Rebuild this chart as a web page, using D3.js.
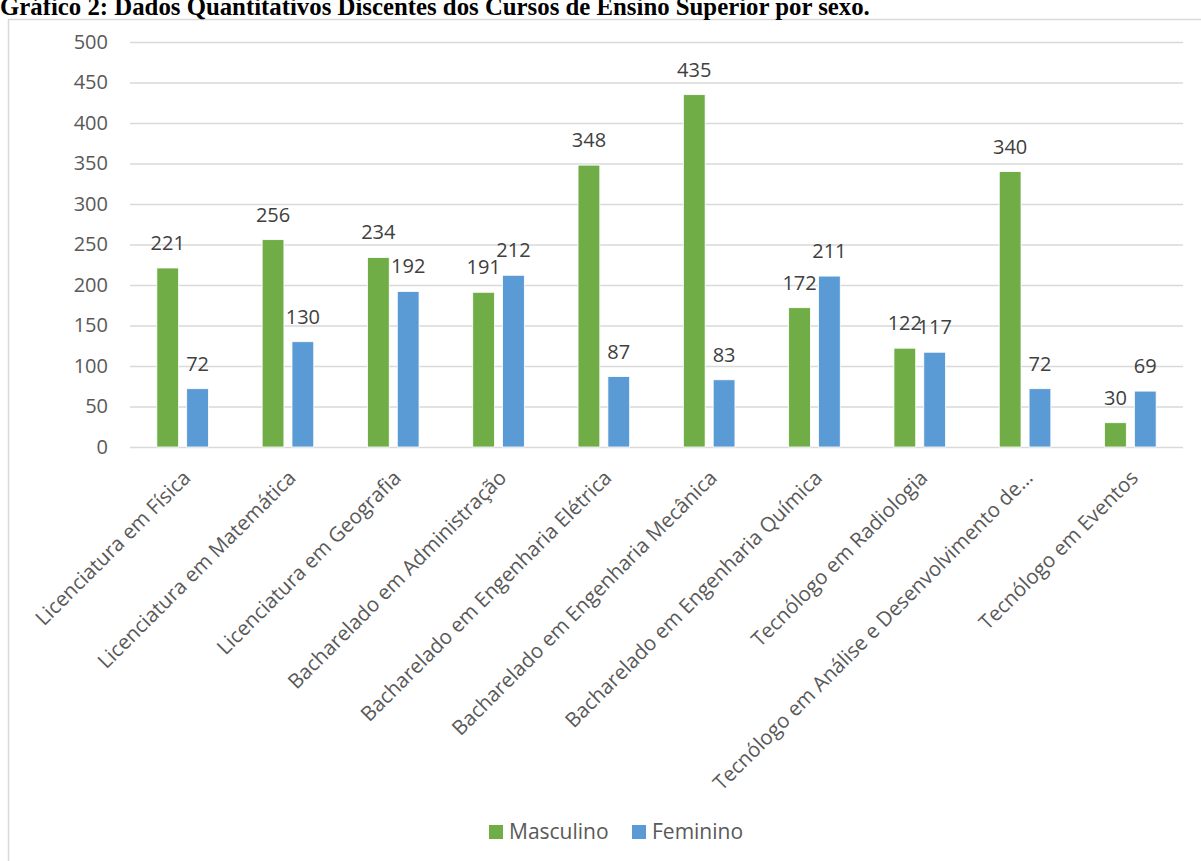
<!DOCTYPE html>
<html>
<head>
<meta charset="utf-8">
<script src="https://cdn.jsdelivr.net/npm/d3@7"></script>
<style>
  html, body { margin: 0; padding: 0; background: #fff; }
  svg { display: block; }
</style>
</head>
<body>
<svg id="chart" width="1201" height="861"></svg>
<script>
const titleText = "Gráfico 2: Dados Quantitativos Discentes dos Cursos de Ensino Superior por sexo.";
const categories = [
  "Licenciatura em Física",
  "Licenciatura em Matemática",
  "Licenciatura em Geografia",
  "Bacharelado em Administração",
  "Bacharelado em Engenharia Elétrica",
  "Bacharelado em Engenharia Mecânica",
  "Bacharelado em Engenharia Química",
  "Tecnólogo em Radiologia",
  "Tecnólogo em Análise e Desenvolvimento de…",
  "Tecnólogo em Eventos"
];
const seriesNames = ["Masculino", "Feminino"];
const masculino = [221, 256, 234, 191, 348, 435, 172, 122, 340, 30];
const feminino = [72, 130, 192, 212, 87, 83, 211, 117, 72, 69];
const yTicks = [0, 50, 100, 150, 200, 250, 300, 350, 400, 450, 500];
const colors = ["#70ad47", "#5b9bd5"];

const svg = d3.select("#chart");
const font = "'Open Sans', sans-serif";

// outer frame
svg.append("rect")
  .attr("x", 8.5).attr("y", 19.5)
  .attr("width", 1200).attr("height", 900)
  .attr("fill", "#fff").attr("stroke", "#d9d9d9").attr("stroke-width", 1.5);

// title
svg.append("text")
  .attr("x", 0).attr("y", 15)
  .attr("font-family", "'Liberation Serif', 'Times New Roman', serif")
  .attr("font-weight", "bold")
  .attr("font-size", 24.8)
  .attr("fill", "#000")
  .text(titleText);

const plotLeft = 130, plotRight = 1183, y0px = 447, y500px = 42;

const x = d3.scaleBand().domain(categories).range([plotLeft, plotRight]).paddingInner(0).paddingOuter(0);
const inner = d3.scaleBand().domain(seriesNames).range([0, x.bandwidth()]).paddingInner(0.27).paddingOuter(0.9);
const y = d3.scaleLinear().domain([0, 500]).range([y0px, y500px]);

// gridlines
const yAxis = d3.axisLeft(y).tickValues(yTicks).tickSize(-(plotRight - plotLeft)).tickPadding(22);
const gy = svg.append("g").attr("transform", `translate(${plotLeft},0)`).call(yAxis);
gy.select(".domain").remove();
gy.selectAll(".tick line").attr("stroke", "#d9d9d9").attr("stroke-width", 1.5);
gy.selectAll(".tick text")
  .attr("font-family", font).attr("font-size", 20).attr("fill", "#595959");

const data = categories.map((c, i) => ({ cat: c, vals: [masculino[i], feminino[i]] }));

const groups = svg.append("g").selectAll("g").data(data).join("g")
  .attr("transform", d => `translate(${x(d.cat)},0)`);

groups.selectAll("rect").data(d => d.vals.map((v, j) => ({ v, s: seriesNames[j], j })))
  .join("rect")
  .attr("x", d => inner(d.s))
  .attr("width", inner.bandwidth())
  .attr("y", d => y(d.v))
  .attr("height", d => y(0) - y(d.v))
  .attr("fill", d => colors[d.j])
  .attr("stroke", "#fff").attr("stroke-width", 0.8);

groups.selectAll("text.lbl").data(d => d.vals.map((v, j) => ({ v, s: seriesNames[j], j })))
  .join("text")
  .attr("class", "lbl")
  .attr("x", d => inner(d.s) + inner.bandwidth() / 2)
  .attr("y", d => y(d.v) - 18)
  .attr("text-anchor", "middle")
  .attr("font-family", font).attr("font-size", 20).attr("fill", "#404040")
  .text(d => d.v);

// x axis labels
const xAxis = d3.axisBottom(x).tickSize(0).tickPadding(0);
const gx = svg.append("g").attr("transform", `translate(0,${y0px})`).call(xAxis);
gx.select(".domain").remove();
gx.selectAll(".tick text")
  .attr("font-family", font).attr("font-size", 20.5).attr("fill", "#595959")
  .attr("text-anchor", "end")
  .attr("dy", "0.35em")
  .attr("transform", "translate(4,27) rotate(-45)")
  .attr("y", 0).attr("x", 0);

// legend
const legend = svg.append("g").attr("transform", "translate(489,825)");
const legendX = [0, 143];
seriesNames.forEach((s, i) => {
  const g = legend.append("g").attr("transform", `translate(${legendX[i]},0)`);
  g.append("rect").attr("x", 0).attr("y", 0).attr("width", 14).attr("height", 14).attr("fill", colors[i]);
  g.append("text").attr("x", 20).attr("y", 14)
    .attr("font-family", font).attr("font-size", 21).attr("fill", "#595959").text(s);
});
</script>
</body>
</html>
